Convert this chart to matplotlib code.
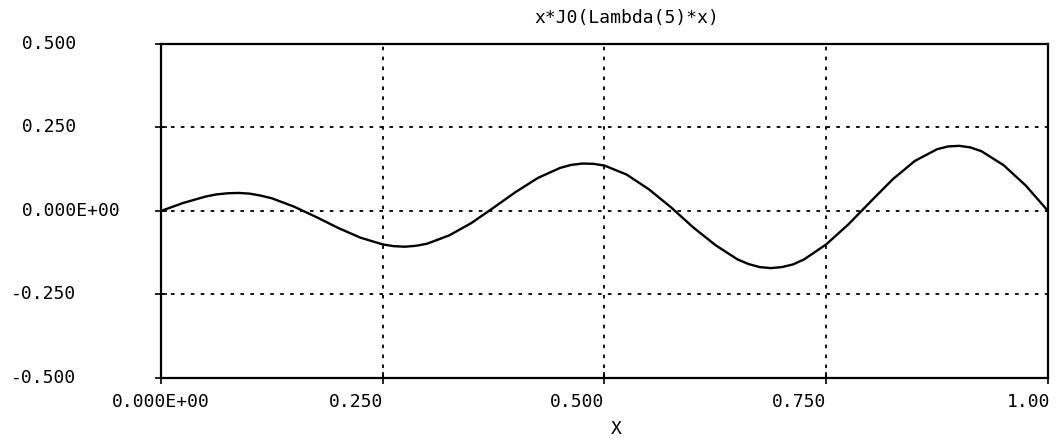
import matplotlib
matplotlib.use('Agg')
import matplotlib.pyplot as plt
from matplotlib.transforms import blended_transform_factory, offset_copy

MONO = 'DejaVu Sans Mono'

# x*J0(Lambda(5)*x), sampled every 0.025 with extra points near the extrema
x_vals = [0.000, 0.025, 0.050, 0.0625, 0.075, 0.0875, 0.100, 0.1125, 0.125, 0.150,
          0.175, 0.200, 0.225, 0.250, 0.2625, 0.275, 0.2875, 0.300, 0.325, 0.350,
          0.375, 0.400, 0.425, 0.450, 0.4625, 0.475, 0.4875, 0.500, 0.525, 0.550,
          0.575, 0.600, 0.625, 0.650, 0.6625, 0.675, 0.6875, 0.700, 0.7125, 0.725,
          0.750, 0.775, 0.800, 0.825, 0.850, 0.875, 0.8875, 0.900, 0.9125, 0.925,
          0.950, 0.975, 1.000]
y_vals = [0.000, 0.024, 0.043, 0.0496, 0.053, 0.054, 0.052, 0.046, 0.038, 0.013,
          -0.018, -0.051, -0.080, -0.100, -0.1053, -0.107, -0.1042, -0.098, -0.073, -0.036,
          0.010, 0.057, 0.099, 0.129, 0.138, 0.142, 0.1412, 0.136, 0.109, 0.065,
          0.011, -0.049, -0.102, -0.145, -0.1589, -0.168, -0.171, -0.168, -0.160, -0.145,
          -0.100, -0.040, 0.028, 0.095, 0.150, 0.185, 0.1933, 0.195, 0.1903, 0.179,
          0.137, 0.076, 0.000]

x_ticks = [0.0, 0.25, 0.5, 0.75, 1.0]
x_labels = ['0.000E+00', '0.250', '0.500', '0.750', '1.00']
x_label_shift = [0, -27, -27, -27, -19]   # pixels, plotter-style placement
y_ticks = [0.5, 0.25, 0.0, -0.25, -0.5]
y_labels = [' 0.500', ' 0.250', ' 0.000E+00', '-0.250', '-0.500']

fig = plt.figure(figsize=(10.59, 4.38), dpi=100)
ax = fig.add_axes([0.152, 0.137, 0.8376, 0.7626])

ax.plot(x_vals, y_vals, color='black', linewidth=1.7, solid_joinstyle='round')

ax.set_xlim(0, 1)
ax.set_ylim(-0.5, 0.5)
ax.set_xticks(x_ticks)
ax.set_yticks(y_ticks)
ax.grid(True, color='black', linestyle=(0, (2, 3.5)), linewidth=1.3)
ax.tick_params(direction='inout', length=9, width=1.2,
               labelbottom=False, labelleft=False)
for spine in ax.spines.values():
    spine.set_linewidth(1.6)

# y labels: left justified, minus sign hanging out
ytrans = blended_transform_factory(fig.transFigure, ax.transData)
for v, lab in zip(y_ticks, y_labels):
    ax.text(11 / 1059, v, lab, transform=ytrans, ha='left', va='center',
            family=MONO, fontsize=13)

# x labels under the bottom axis
xtrans = blended_transform_factory(ax.transData, ax.transAxes)
for v, lab, dx in zip(x_ticks, x_labels, x_label_shift):
    t = offset_copy(xtrans, fig=fig, x=dx, y=-24, units='dots')
    ax.text(v, 0, lab, transform=t, ha='center', va='center',
            family=MONO, fontsize=13, clip_on=False)

fig.text(627 / 1059, 1 - 18 / 438, 'x*J0(Lambda(5)*x)', ha='center',
         va='center', family=MONO, fontsize=13)
fig.text(616 / 1059, 1 - 429 / 438, 'X', ha='center', va='center',
         family=MONO, fontsize=13)

fig.savefig('out.png', dpi=100)
